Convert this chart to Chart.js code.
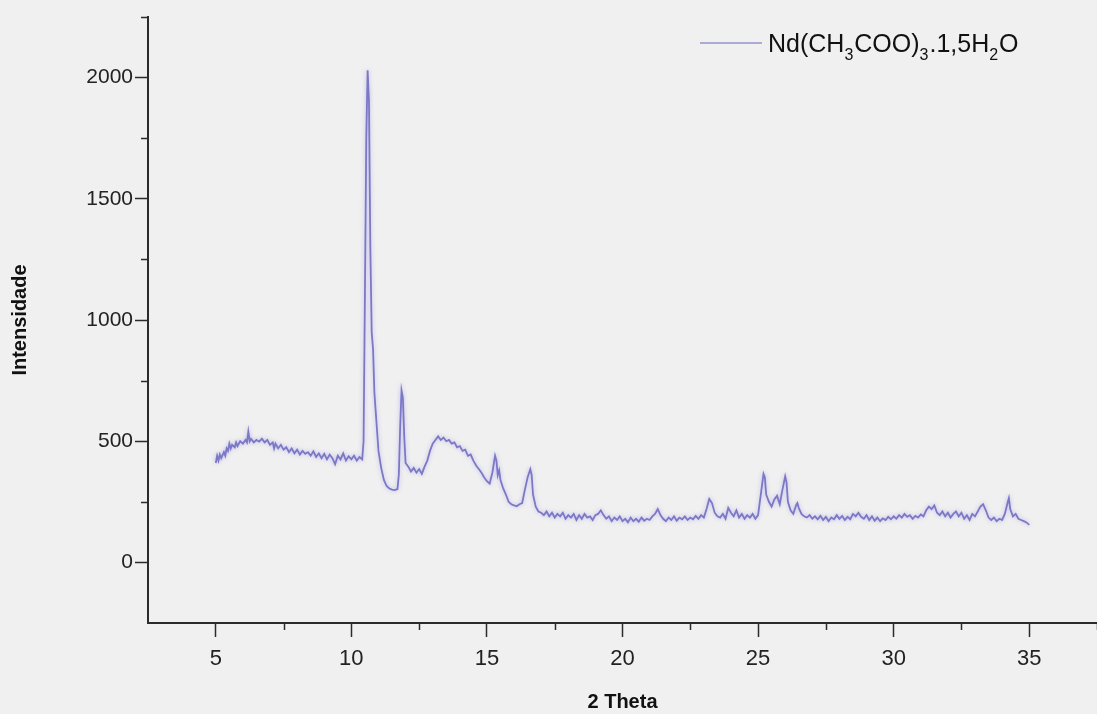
<!DOCTYPE html>
<html>
<head>
<meta charset="utf-8">
<script src="https://cdn.jsdelivr.net/npm/chart.js@4"></script>
<style>
  html, body { margin: 0; padding: 0; background: #f0f0f0; }
  #wrap { width: 1097px; height: 714px; position: relative; }
</style>
</head>
<body>
<div id="wrap"><canvas id="xrdChart"></canvas></div>
<script>
// diffractogram
const twoTheta = [
  5.00, 5.05, 5.10, 5.15, 5.20, 5.30, 5.35, 5.40, 5.45, 5.50, 5.55, 5.60, 5.70, 5.75, 5.80, 5.90,
  6.00, 6.10, 6.15, 6.20, 6.25, 6.30, 6.40, 6.50, 6.60, 6.70, 6.80, 6.90,
  7.00, 7.10, 7.15, 7.20, 7.30, 7.40, 7.50, 7.60, 7.70, 7.80, 7.90,
  8.00, 8.10, 8.20, 8.30, 8.40, 8.50, 8.60, 8.70, 8.80, 8.90,
  9.00, 9.10, 9.20, 9.30, 9.40, 9.50, 9.60, 9.70, 9.80, 9.90,
  10.00, 10.10, 10.20, 10.30, 10.40, 10.45, 10.50, 10.55, 10.60, 10.65, 10.70, 10.75, 10.80, 10.85, 10.90, 10.95,
  11.00, 11.10, 11.20, 11.30, 11.40, 11.50, 11.60, 11.70, 11.75, 11.80, 11.85, 11.90, 11.95,
  12.00, 12.10, 12.20, 12.30, 12.40, 12.50, 12.60, 12.70, 12.80, 12.90,
  13.00, 13.10, 13.20, 13.30, 13.40, 13.50, 13.60, 13.70, 13.80, 13.90,
  14.00, 14.10, 14.20, 14.30, 14.40, 14.50, 14.60, 14.70, 14.80, 14.90,
  15.00, 15.10, 15.20, 15.30, 15.35, 15.40, 15.45, 15.50, 15.60, 15.70, 15.80, 15.90,
  16.00, 16.10, 16.20, 16.30, 16.40, 16.50, 16.60, 16.65, 16.70, 16.80, 16.90,
  17.00, 17.10, 17.20, 17.30, 17.40, 17.50, 17.60, 17.70, 17.80, 17.90,
  18.00, 18.10, 18.20, 18.30, 18.40, 18.50, 18.60, 18.70, 18.80, 18.90,
  19.00, 19.10, 19.20, 19.30, 19.40, 19.50, 19.60, 19.70, 19.80, 19.90,
  20.00, 20.10, 20.20, 20.30, 20.40, 20.50, 20.60, 20.70, 20.80, 20.90,
  21.00, 21.10, 21.20, 21.30, 21.40, 21.50, 21.60, 21.70, 21.80, 21.90,
  22.00, 22.10, 22.20, 22.30, 22.40, 22.50, 22.60, 22.70, 22.80, 22.90,
  23.00, 23.10, 23.20, 23.30, 23.40, 23.50, 23.60, 23.70, 23.80, 23.90,
  24.00, 24.10, 24.20, 24.30, 24.40, 24.50, 24.60, 24.70, 24.80, 24.90,
  25.00, 25.10, 25.20, 25.25, 25.30, 25.40, 25.50, 25.60, 25.70, 25.80, 25.90,
  26.00, 26.05, 26.10, 26.20, 26.30, 26.40, 26.45, 26.50, 26.60, 26.70, 26.80, 26.90,
  27.00, 27.10, 27.20, 27.30, 27.40, 27.50, 27.60, 27.70, 27.80, 27.90,
  28.00, 28.10, 28.20, 28.30, 28.40, 28.50, 28.60, 28.70, 28.80, 28.90,
  29.00, 29.10, 29.20, 29.30, 29.40, 29.50, 29.60, 29.70, 29.80, 29.90,
  30.00, 30.10, 30.20, 30.30, 30.40, 30.50, 30.60, 30.70, 30.80, 30.90,
  31.00, 31.10, 31.20, 31.30, 31.40, 31.50, 31.60, 31.70, 31.80, 31.90,
  32.00, 32.10, 32.20, 32.30, 32.40, 32.50, 32.60, 32.70, 32.80, 32.90,
  33.00, 33.10, 33.20, 33.30, 33.40, 33.50, 33.60, 33.70, 33.80, 33.90,
  34.00, 34.10, 34.20, 34.25, 34.30, 34.40, 34.50, 34.60, 34.70, 34.80, 34.90, 35.00
];

const intensity = [
  410, 440, 420, 445, 430, 455, 440, 470, 460, 490, 470, 485, 475, 495, 480, 500,
  490, 505, 495, 540, 500, 510, 495, 505, 498, 510, 495, 505,
  485, 495, 470, 490, 470, 485, 465, 475, 455, 470, 450,
  465, 445, 460, 448, 455, 440, 458, 435, 450, 430,
  448, 425, 445, 430, 405, 440, 425, 450, 420, 438,
  425, 440, 420, 435, 425, 500, 1100, 1750, 2030, 1900, 1300, 950, 880, 700, 620, 540,
  460, 390, 340, 315, 305, 300, 298, 302, 360, 560, 710, 680, 520,
  410, 395, 375, 390, 370, 385, 365, 395, 420, 460,
  490, 505, 520, 505, 515, 500, 505, 490, 495, 475,
  480, 460, 465, 440, 445, 420, 400, 385, 370, 350,
  335, 325, 370, 440, 420, 360, 380, 340, 305, 280, 250, 240,
  235, 232, 240, 245, 300, 350, 385, 360, 280, 230, 210,
  205, 195, 210, 190, 205, 185, 200, 190, 205, 180,
  195, 185, 200, 175, 195, 180, 200, 185, 190, 175,
  195, 200, 215, 195, 180, 190, 170, 185, 175, 190,
  170, 180, 165, 185, 170, 180, 168, 185, 172, 180,
  175, 190, 200, 220, 195, 180, 170, 185, 175, 190,
  172, 185, 178, 190, 175, 185, 178, 192, 180, 195,
  185, 220, 262, 245, 205, 190, 185, 200, 180, 225,
  205, 190, 215, 185, 200, 180, 195, 185, 200, 180,
  195, 280, 365, 350, 280, 250, 230, 260, 275, 240, 300,
  355, 330, 250, 215, 200, 235, 245, 225, 200, 190, 185, 195,
  180, 190, 178, 192, 175, 188, 170, 185, 178, 195,
  180, 192, 175, 188, 178, 200, 190, 205, 188, 180,
  195, 175, 190, 172, 185, 170, 182, 175, 188, 178,
  190, 180, 195, 185, 200, 188, 195, 180, 192, 185,
  198, 190, 215, 230, 220, 235, 205, 195, 210, 190,
  205, 185, 200, 210, 190, 205, 180, 195, 175, 200,
  190, 210, 230, 240, 215, 185, 175, 185, 170, 180,
  175, 200, 245, 265, 220, 190, 200, 180, 175, 170, 165, 155
];

const seriesLabel = 'Nd(CH3COO)3.1,5H2O';
// legend text split into [text, isSubscript]
const legendParts = [['Nd(CH', false], ['3', true], ['COO)', false], ['3', true], ['.1,5H', false], ['2', true], ['O', false]];

const xMin = 2.5, xMax = 37.5, xStep = 2.5;
const yMin = -250, yMax = 2250, yStep = 250;

const lineColor = 'rgb(124,120,198)';
const axisColor = '#2b2b2b';

const points = twoTheta.map((t, i) => ({ x: t, y: intensity[i] }));

const isMajorX = v => Math.abs(v % 5) < 1e-6 && v > xMin && v < xMax + 0.01;
const isMajorY = v => Math.abs(v % 500) < 1e-6;

// short minor ticks drawn through the scales, plus the legend with subscripts
const extrasPlugin = {
  id: 'extras',
  beforeDatasetsDraw(chart) {
    const ctx = chart.ctx;
    ctx.save();
    ctx.shadowColor = 'rgba(150,145,230,0.6)';
    ctx.shadowBlur = 4;
  },
  afterDatasetsDraw(chart) {
    chart.ctx.restore();
  },
  afterDraw(chart) {
    const ctx = chart.ctx;
    const xs = chart.scales.x, ys = chart.scales.y;
    ctx.save();
    ctx.strokeStyle = axisColor;
    ctx.lineWidth = 1.5;
    xs.ticks.forEach(t => {
      if (isMajorX(t.value) || t.value === xMin) return;
      const px = Math.round(xs.getPixelForValue(t.value)) + 0.5;
      ctx.beginPath();
      ctx.moveTo(px, xs.top);
      ctx.lineTo(px, xs.top + 7);
      ctx.stroke();
    });
    ys.ticks.forEach(t => {
      if (isMajorY(t.value) || t.value === yMin) return;
      const py = Math.round(ys.getPixelForValue(t.value)) + 0.5;
      ctx.beginPath();
      ctx.moveTo(ys.right, py);
      ctx.lineTo(ys.right - 7, py);
      ctx.stroke();
    });

    // legend
    const lx = 700, ly = 43;
    ctx.strokeStyle = 'rgb(150,148,205)';
    ctx.lineWidth = 1.5;
    ctx.beginPath();
    ctx.moveTo(lx, ly);
    ctx.lineTo(lx + 62, ly);
    ctx.stroke();
    let tx = lx + 68;
    ctx.fillStyle = '#111';
    ctx.textBaseline = 'alphabetic';
    legendParts.forEach(([txt, sub]) => {
      ctx.font = sub ? '16px "Liberation Sans", Arial, sans-serif' : '25px "Liberation Sans", Arial, sans-serif';
      ctx.fillText(txt, tx, sub ? ly + 17 : ly + 9);
      tx += ctx.measureText(txt).width + (sub ? 1 : 0);
    });
    ctx.restore();
  }
};

const ctx = document.getElementById('xrdChart').getContext('2d');
new Chart(ctx, {
  type: 'line',
  data: {
    datasets: [{
      label: seriesLabel,
      data: points,
      borderColor: lineColor,
      borderWidth: 1.8,
      pointRadius: 0,
      tension: 0,
      fill: false
    }]
  },
  options: {
    responsive: true,
    maintainAspectRatio: false,
    animation: false,
    layout: { padding: { top: 17, left: 0, right: 0, bottom: 0 } },
    plugins: {
      legend: { display: false },
      tooltip: { enabled: false }
    },
    scales: {
      x: {
        type: 'linear',
        min: xMin,
        max: xMax,
        afterFit: s => { s.height = 91; s.paddingLeft = 0; s.paddingRight = 0; },
        ticks: {
          stepSize: xStep,
          autoSkip: false,
          maxRotation: 0,
          padding: 9,
          color: '#222',
          font: { family: '"Liberation Sans", Arial, sans-serif', size: 22 },
          callback: v => (isMajorX(v) ? String(v) : '')
        },
        grid: {
          drawOnChartArea: false,
          drawTicks: true,
          tickLength: 14,
          tickWidth: 1.5,
          tickColor: c => (c.tick && isMajorX(c.tick.value) ? axisColor : 'rgba(0,0,0,0)')
        },
        border: { display: true, color: axisColor, width: 2 },
        title: {
          display: true,
          text: '2 Theta',
          color: '#111',
          font: { family: '"Liberation Sans", Arial, sans-serif', size: 20, weight: 'bold' },
          padding: { top: 14, bottom: 0 }
        }
      },
      y: {
        type: 'linear',
        min: yMin,
        max: yMax,
        afterFit: s => { s.width = 148; },
        ticks: {
          stepSize: yStep,
          autoSkip: false,
          padding: 2,
          color: '#222',
          font: { family: '"Liberation Sans", Arial, sans-serif', size: 21 },
          callback: v => (isMajorY(v) ? String(v) : '')
        },
        grid: {
          drawOnChartArea: false,
          drawTicks: true,
          tickLength: 13,
          tickWidth: 1.5,
          tickColor: c => (c.tick && isMajorY(c.tick.value) ? axisColor : 'rgba(0,0,0,0)')
        },
        border: { display: true, color: axisColor, width: 2 },
        title: {
          display: true,
          text: 'Intensidade',
          color: '#111',
          font: { family: '"Liberation Sans", Arial, sans-serif', size: 20, weight: 'bold' },
          padding: { top: 8, bottom: 0 }
        }
      }
    }
  },
  plugins: [extrasPlugin]
});
</script>
</body>
</html>
